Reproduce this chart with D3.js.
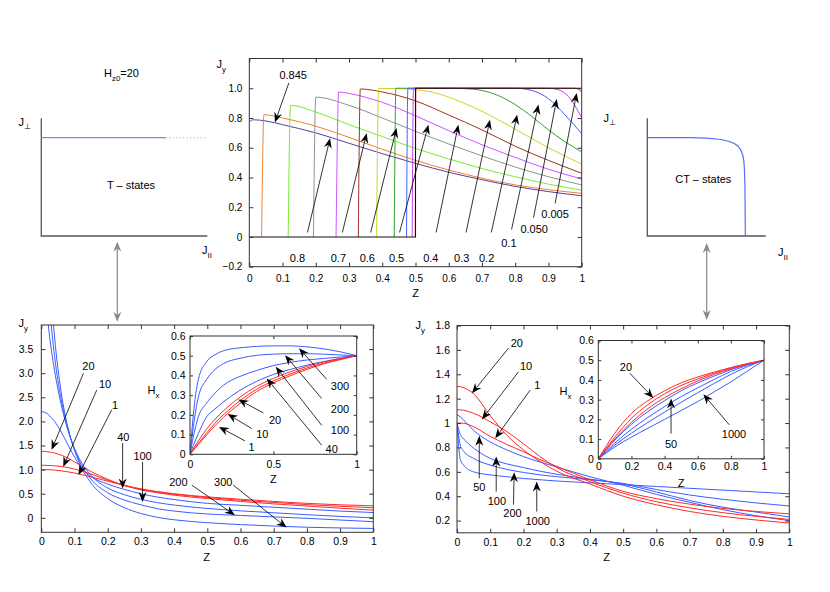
<!DOCTYPE html>
<html>
<head>
<meta charset="utf-8">
<script src="https://cdn.jsdelivr.net/npm/d3@7"></script>
<style>
  body { margin: 0; background: #fff; }
  text { font-family: "Liberation Sans", Arial, sans-serif; fill: #000; }
</style>
</head>
<body>
<svg id="fig" width="830" height="592"></svg>
<script>
// ---------- top centre: Jy(Z) for several values (pairs [Z, Jy]) ----------
const jy0845 = [[0,0.772],[0.012,0.788],[0.05,0.78],[0.1,0.755],[0.2,0.70],[0.3,0.63],[0.4,0.56],[0.5,0.495],[0.6,0.435],[0.7,0.385],[0.8,0.34],[0.9,0.305],[1,0.277]];
const jy080 = [[0.037,0],[0.044,0.822],[0.1,0.80],[0.2,0.745],[0.3,0.67],[0.4,0.59],[0.5,0.515],[0.6,0.45],[0.7,0.395],[0.8,0.35],[0.9,0.318],[1,0.293]];
const jy070 = [[0.117,0],[0.124,0.885],[0.2,0.84],[0.3,0.755],[0.4,0.675],[0.5,0.595],[0.6,0.525],[0.7,0.46],[0.8,0.405],[0.9,0.355],[1,0.315]];
const jy060 = [[0.193,0],[0.2,0.94],[0.3,0.885],[0.4,0.80],[0.5,0.71],[0.6,0.625],[0.7,0.545],[0.8,0.47],[0.9,0.405],[1,0.35]];
const jy050 = [[0.261,0],[0.269,0.975],[0.3,0.965],[0.4,0.905],[0.5,0.815],[0.6,0.715],[0.7,0.62],[0.8,0.535],[0.9,0.455],[1,0.39]];
const jy040 = [[0.328,0],[0.334,0.995],[0.4,0.975],[0.5,0.915],[0.6,0.82],[0.7,0.72],[0.8,0.61],[0.9,0.515],[1,0.428]];
const jy030 = [[0.383,0],[0.389,0.998],[0.45,0.998],[0.5,0.99],[0.55,0.975],[0.6,0.94],[0.7,0.845],[0.8,0.725],[0.9,0.60],[1,0.49]];
const jy020 = [[0.436,0],[0.441,1.0],[0.6,1.0],[0.65,0.997],[0.7,0.985],[0.75,0.95],[0.8,0.89],[0.85,0.81],[0.9,0.72],[0.95,0.64],[1,0.572]];
const jy010 = [[0.473,0],[0.477,1.0],[0.8,1.0],[0.85,0.985],[0.9,0.93],[0.95,0.82],[1,0.695]];
const jy0050 = [[0.490,0],[0.494,1.0],[0.9,1.0],[0.93,0.99],[0.96,0.945],[1,0.80]];
const jy0005 = [[0.4995,0],[0.501,1.0],[0.975,1.0],[0.99,0.995],[1,0.97]];
const jyStep = [[0,0],[0.5,0],[0.5,1],[1,1]];
const topCurves = [jy0845, jy080, jy070, jy060, jy050, jy040, jy030, jy020, jy010, jy0050, jy0005];
const topColors = ["#5b3f99","#f08030","#74ee2c","#909090","#cc55ff","#a03020","#c8d820","#30a030","#4060ff","#c040f0","#ff2020"];
// label, label Z, label Jy, tail Z, tail Jy, tip Z, tip Jy
const topNotes = [
  ["0.845",0.132,1.09,0.119,1.036,0.077,0.770],
  ["0.8",0.145,-0.14,0.175,0.03,0.243,0.664],
  ["0.7",0.268,-0.14,0.28,0.03,0.353,0.698],
  ["0.6",0.355,-0.14,0.365,0.03,0.443,0.732],
  ["0.5",0.443,-0.14,0.452,0.03,0.539,0.755],
  ["0.4",0.546,-0.14,0.562,0.03,0.629,0.755],
  ["0.3",0.639,-0.14,0.652,0.03,0.724,0.788],
  ["0.2",0.714,-0.14,0.728,0.03,0.806,0.822],
  ["0.1",0.781,-0.04,0.789,0.05,0.870,0.89],
  ["0.050",0.857,0.052,0.855,0.13,0.925,0.928],
  ["0.005",0.920,0.151,0.920,0.225,0.985,0.968]
];

// ---------- bottom left: T-states ----------
const zBL = [0,0.01,0.02,0.03,0.04,0.06,0.08,0.1,0.12,0.15,0.2,0.25,0.3,0.35,0.4,0.5,0.6,0.7,0.8,0.9,1.0];
const blRed20 = [1.38,1.378,1.37,1.36,1.345,1.30,1.24,1.16,1.08,0.96,0.80,0.67,0.58,0.52,0.47,0.40,0.34,0.29,0.245,0.20,0.16];
const blRed10 = [1.09,1.09,1.088,1.085,1.08,1.065,1.045,1.01,0.975,0.91,0.78,0.675,0.595,0.535,0.49,0.42,0.365,0.32,0.275,0.24,0.21];
const blRed1  = [1.0,1.0,0.998,0.995,0.99,0.975,0.955,0.93,0.90,0.85,0.76,0.675,0.60,0.545,0.50,0.435,0.385,0.34,0.30,0.27,0.25];
const blBlue40  = [2.2,2.19,2.15,2.08,2.0,1.78,1.52,1.26,1.05,0.86,0.70,0.59,0.50,0.43,0.38,0.30,0.26,0.22,0.18,0.14,0.11];
const blBlue100 = [7,5.2,4.1,3.5,3.05,2.35,1.82,1.44,1.16,0.88,0.62,0.48,0.385,0.315,0.265,0.195,0.145,0.105,0.065,0.03,0.0];
const blBlue200 = [9,6.5,4.9,4.0,3.35,2.45,1.85,1.42,1.11,0.80,0.52,0.37,0.27,0.19,0.14,0.08,0.05,0.02,-0.01,-0.045,-0.08];
const blBlue300 = [11,8,5.8,4.6,3.75,2.6,1.88,1.40,1.06,0.72,0.40,0.21,0.09,0.01,-0.04,-0.10,-0.14,-0.17,-0.195,-0.21,-0.22];
const blNotes = [
  ["20",0.142,3.15,0.127,3.0,0.031,1.41],
  ["10",0.192,2.78,0.167,2.65,0.066,1.06],
  ["1",0.222,2.34,0.212,2.24,0.112,0.89],
  ["40",0.247,1.68,0.245,1.55,0.245,0.61],
  ["100",0.305,1.29,0.305,1.16,0.305,0.33],
  ["200",0.413,0.75,0.453,0.68,0.583,0.056],
  ["300",0.548,0.75,0.578,0.68,0.739,-0.2]
];
// inset Hx(Z)
const zBLi = [0,0.02,0.05,0.1,0.15,0.2,0.3,0.4,0.5,0.6,0.7,0.8,0.9,1.0];
const hxRed20 = [0,0.028,0.068,0.128,0.178,0.22,0.29,0.345,0.385,0.418,0.445,0.468,0.485,0.5];
const hxRed10 = [0,0.022,0.055,0.108,0.158,0.2,0.272,0.33,0.372,0.407,0.437,0.462,0.482,0.5];
const hxRed1  = [0,0.02,0.05,0.098,0.145,0.187,0.258,0.318,0.362,0.398,0.43,0.458,0.48,0.5];
const hxBlue40  = [0,0.045,0.105,0.19,0.23,0.265,0.325,0.37,0.405,0.43,0.452,0.47,0.486,0.5];
const hxBlue100 = [0,0.09,0.19,0.26,0.31,0.35,0.395,0.425,0.45,0.466,0.478,0.486,0.493,0.5];
const hxBlue200 = [0,0.14,0.29,0.38,0.43,0.46,0.487,0.502,0.508,0.51,0.51,0.508,0.504,0.5];
const hxBlue300 = [0,0.2,0.38,0.47,0.505,0.525,0.54,0.547,0.55,0.55,0.545,0.535,0.52,0.5];
const bliNotes = [
  ["300",0.90,0.346,0.82,0.38,0.654,0.538],
  ["200",0.90,0.232,0.79,0.283,0.57,0.503],
  ["100",0.90,0.122,0.79,0.147,0.514,0.444],
  ["40",0.85,0.025,0.79,0.046,0.46,0.385],
  ["20",0.51,0.176,0.44,0.21,0.29,0.278],
  ["10",0.434,0.102,0.37,0.131,0.226,0.204],
  ["1",0.37,0.037,0.33,0.068,0.174,0.139]
];

// ---------- bottom right: CT-states ----------
const zBR = [0,0.01,0.02,0.05,0.1,0.15,0.2,0.25,0.3,0.4,0.5,0.6,0.7,0.8,0.9,1.0];
const brRed20 = [1.30,1.298,1.29,1.24,1.06,0.90,0.78,0.685,0.605,0.50,0.40,0.33,0.275,0.235,0.205,0.18];
const brRed10 = [1.11,1.108,1.105,1.08,1.01,0.93,0.83,0.725,0.635,0.52,0.425,0.355,0.305,0.265,0.235,0.21];
const brRed1  = [1.0,1.0,0.998,0.97,0.89,0.825,0.765,0.70,0.645,0.535,0.44,0.38,0.335,0.30,0.275,0.255];
const brBlue50   = [1.07,1.05,1.025,0.94,0.845,0.78,0.725,0.68,0.64,0.56,0.49,0.415,0.35,0.29,0.24,0.20];
const brBlue100  = [1.0,0.905,0.87,0.795,0.71,0.665,0.635,0.605,0.58,0.54,0.50,0.435,0.365,0.31,0.27,0.23];
const brBlue200  = [1.0,0.82,0.77,0.71,0.655,0.62,0.595,0.575,0.56,0.535,0.505,0.455,0.41,0.375,0.345,0.32];
const brBlue1000 = [1.0,0.70,0.655,0.60,0.575,0.56,0.545,0.535,0.525,0.51,0.495,0.48,0.465,0.45,0.435,0.42];
const brNotes = [
  ["20",0.18,1.655,0.155,1.614,0.045,1.245],
  ["10",0.208,1.464,0.185,1.42,0.075,1.03],
  ["1",0.242,1.313,0.22,1.27,0.115,0.875],
  ["50",0.067,0.473,0.067,0.547,0.067,0.895],
  ["100",0.12,0.364,0.118,0.438,0.118,0.725],
  ["200",0.167,0.26,0.17,0.33,0.172,0.597],
  ["1000",0.243,0.197,0.24,0.274,0.24,0.52]
];
const zBRi = [0,0.1,0.2,0.3,0.4,0.5,0.6,0.7,0.8,0.9,1.0];
const hrRed20 = [0,0.13,0.23,0.295,0.345,0.385,0.415,0.44,0.463,0.483,0.5];
const hrRed10 = [0,0.11,0.205,0.275,0.33,0.372,0.405,0.435,0.46,0.482,0.5];
const hrRed1  = [0,0.10,0.185,0.255,0.31,0.355,0.395,0.428,0.457,0.48,0.5];
const hrBlue50   = [0,0.095,0.175,0.24,0.295,0.345,0.385,0.42,0.452,0.478,0.5];
const hrBlue100  = [0,0.08,0.15,0.21,0.265,0.315,0.36,0.403,0.443,0.474,0.5];
const hrBlue200  = [0,0.07,0.13,0.185,0.237,0.287,0.335,0.383,0.428,0.467,0.5];
const hrBlue1000 = [0,0.06,0.11,0.155,0.2,0.245,0.29,0.34,0.39,0.445,0.5];
const briNotes = [
  ["20",0.167,0.467,0.19,0.434,0.332,0.309],
  ["50",0.439,0.073,0.439,0.128,0.439,0.306],
  ["1000",0.819,0.128,0.79,0.173,0.634,0.327]
];

// ---------- sketches: J_perp vs J_par ----------
const tJpar = [0, 0.749];
const tJperp = [0.835, 0.835];
const tDotted = [[0.749,0.835],[1.0,0.835]];
const ctJpar  = [0, 0.36, 0.586, 0.698, 0.769, 0.806, 0.819, 0.825, 0.828];
const ctJperp = [0.835, 0.835, 0.824, 0.801, 0.759, 0.688, 0.589, 0.391, 0];

const RED = "#ff2a2a", BLUE = "#3a5cff";
const FONT = "'Liberation Sans', Arial, sans-serif";

const svg = d3.select("#fig");
let clipN = 0;

function makeAxes(box, xd, yd) {
  const x = d3.scaleLinear().domain(xd).range([box.x0, box.x1]);
  const y = d3.scaleLinear().domain(yd).range([box.y1, box.y0]);
  const id = "clip" + (clipN++);
  svg.append("clipPath").attr("id", id).append("rect")
    .attr("x", box.x0).attr("y", box.y0)
    .attr("width", box.x1 - box.x0).attr("height", box.y1 - box.y0);
  const plot = svg.append("g").attr("clip-path", `url(#${id})`);
  return {x, y, box, plot};
}

function drawFrame(ax, xt, yt, fx, fy, opt) {
  const b = ax.box, g = svg.append("g");
  g.append("rect").attr("x", b.x0).attr("y", b.y0)
    .attr("width", b.x1 - b.x0).attr("height", b.y1 - b.y0)
    .attr("fill", "none").attr("stroke", "#333").attr("stroke-width", 1);
  const ts = opt.tick || 4;
  const style = sel => {
    sel.select(".domain").remove();
    sel.selectAll("line").attr("stroke", "#333");
    sel.selectAll("text").attr("font-family", FONT).attr("font-size", opt.fs || 10.5).attr("fill", "#000");
  };
  g.append("g").attr("transform", `translate(0,${b.y1})`)
    .call(d3.axisBottom(ax.x).tickValues(xt).tickSize(-ts).tickPadding(opt.xpad).tickFormat(fx)).call(style);
  g.append("g").attr("transform", `translate(0,${b.y0})`)
    .call(d3.axisTop(ax.x).tickValues(xt).tickSize(-ts).tickFormat("")).call(style);
  g.append("g").attr("transform", `translate(${b.x0},0)`)
    .call(d3.axisLeft(ax.y).tickValues(yt).tickSize(-ts).tickPadding(opt.ypad).tickFormat(fy)).call(style);
  g.append("g").attr("transform", `translate(${b.x1},0)`)
    .call(d3.axisRight(ax.y).tickValues(yt).tickSize(-ts).tickFormat("")).call(style);
}

function lineXY(ax, xs, ys, color, curve) {
  const pts = xs.map((v, i) => [v, ys[i]]);
  ax.plot.append("path").datum(pts)
    .attr("d", d3.line().x(d => ax.x(d[0])).y(d => ax.y(d[1])).curve(curve || d3.curveMonotoneX))
    .attr("fill", "none").attr("stroke", color).attr("stroke-width", 1);
}
function linePts(ax, pts, color, curve, w) {
  ax.plot.append("path").datum(pts)
    .attr("d", d3.line().x(d => ax.x(d[0])).y(d => ax.y(d[1])).curve(curve || d3.curveMonotoneX))
    .attr("fill", "none").attr("stroke", color).attr("stroke-width", w || 1);
}

function arrowHead(g, x1, y1, x2, y2, color, L, W) {
  const dx = x2 - x1, dy = y2 - y1, len = Math.hypot(dx, dy);
  const ux = dx / len, uy = dy / len, nx = -uy, ny = ux;
  const bx = x2 - L * ux, by = y2 - L * uy;
  const mx = x2 - 0.68 * L * ux, my = y2 - 0.68 * L * uy;
  g.append("path")
    .attr("d", `M${x2},${y2}L${bx + W * nx},${by + W * ny}L${mx},${my}L${bx - W * nx},${by - W * ny}Z`)
    .attr("fill", color);
  return [mx, my];
}
function arrow(g, x1, y1, x2, y2, color, w) {
  const m = arrowHead(g, x1, y1, x2, y2, color, 10, 4);
  g.append("line").attr("x1", x1).attr("y1", y1).attr("x2", m[0]).attr("y2", m[1])
    .attr("stroke", color).attr("stroke-width", w || 0.8);
}
function notes(ax, list, fs) {
  const g = svg.append("g");
  list.forEach(n => {
    g.append("text").attr("x", ax.x(n[1])).attr("y", ax.y(n[2])).attr("dy", "0.36em")
      .attr("text-anchor", "middle").attr("font-size", fs || 11).text(n[0]);
    arrow(g, ax.x(n[3]), ax.y(n[4]), ax.x(n[5]), ax.y(n[6]), "#000");
  });
}
function subLabel(x, y, main, sub, fs, sdy) {
  const t = svg.append("text").attr("x", x).attr("y", y).attr("font-size", fs || 11);
  t.append("tspan").text(main);
  t.append("tspan").attr("font-size", (fs || 11) * 0.72).attr("dy", sdy || 4).text(sub);
  return t;
}
const fmtTick = d => (d === 0 ? "0" : d === 1 ? "1" : d3.format(".1f")(d).replace("-", "\u2212"));
const fmt1 = d => (d === 0 ? "0" : d3.format(".1f")(d).replace("-", "\u2212"));
const fmtG = d => (d === 0 ? "0" : String(+d.toFixed(2)));

// ===== top centre =====
const axT = makeAxes({x0: 249.3, x1: 581.7, y0: 58.5, y1: 266.7}, [0, 1], [-0.2, 1.2]);
drawFrame(axT, d3.range(0, 1.01, 0.1), d3.range(-0.2, 1.01, 0.2).map(v => +v.toFixed(1)),
  fmtTick, fmt1, {xpad: 8.5, ypad: 7, fs: 10});
topCurves.forEach((c, i) => linePts(axT, c, topColors[i]));
linePts(axT, jyStep, "#111", d3.curveLinear, 1.1);
notes(axT, topNotes);
svg.append("text").attr("x", 415.7).attr("y", 297).attr("text-anchor", "middle").attr("font-size", 11).text("Z");
subLabel(216.5, 67.5, "J", "y");

// ===== bottom left =====
const axBL = makeAxes({x0: 41.3, x1: 373.3, y0: 325, y1: 532.3}, [0, 1], [-0.3, 4.0]);
drawFrame(axBL, d3.range(0, 1.01, 0.1), d3.range(0, 3.51, 0.5),
  fmtG, fmt1, {xpad: 5.5, ypad: 8});
[blBlue40, blBlue100, blBlue200, blBlue300].forEach(s => lineXY(axBL, zBL, s, BLUE));
[blRed20, blRed10, blRed1].forEach(s => lineXY(axBL, zBL, s, RED));
notes(axBL, blNotes);
svg.append("text").attr("x", 206.7).attr("y", 561).attr("text-anchor", "middle").attr("font-size", 11).text("Z");
subLabel(18.5, 326.5, "J", "y");

// inset
const axBLi = makeAxes({x0: 190, x1: 356.7, y0: 336, y1: 454.3}, [0, 1], [0, 0.6]);
svg.append("rect").attr("x", 190).attr("y", 336).attr("width", 166.7).attr("height", 118.3).attr("fill", "#fff");
axBLi.plot.raise();
drawFrame(axBLi, [0, 0.5, 1], d3.range(0, 0.61, 0.1).map(v => +v.toFixed(1)),
  fmtG, d => (d === 0 ? "0" : d3.format(".1f")(d)), {xpad: 6, ypad: 4.5, tick: 3});
[hxBlue300, hxBlue200, hxBlue100, hxBlue40].forEach(s => lineXY(axBLi, zBLi, s, BLUE));
[hxRed20, hxRed10, hxRed1].forEach(s => lineXY(axBLi, zBLi, s, RED));
notes(axBLi, bliNotes);
svg.append("text").attr("x", 273.3).attr("y", 482.5).attr("text-anchor", "middle").attr("font-size", 11).text("Z");
subLabel(147.5, 394, "H", "x");

// ===== bottom right =====
const axBR = makeAxes({x0: 457, x1: 789.3, y0: 325.5, y1: 532.8}, [0, 1], [0.1, 1.8]);
drawFrame(axBR, d3.range(0, 1.01, 0.1), d3.range(0.2, 1.81, 0.2).map(v => +v.toFixed(1)),
  fmtG, fmtG, {xpad: 5.5, ypad: 7});
[brBlue50, brBlue100, brBlue200, brBlue1000].forEach(s => lineXY(axBR, zBR, s, BLUE));
[brRed20, brRed10, brRed1].forEach(s => lineXY(axBR, zBR, s, RED));
notes(axBR, brNotes);
svg.append("text").attr("x", 606.7).attr("y", 561).attr("text-anchor", "middle").attr("font-size", 11).text("Z");
subLabel(415.5, 328.5, "J", "y");

// inset
const axBRi = makeAxes({x0: 598.3, x1: 764, y0: 340.5, y1: 458.8}, [0, 1], [0, 0.6]);
svg.append("rect").attr("x", 598.3).attr("y", 340.5).attr("width", 165.7).attr("height", 118.3).attr("fill", "#fff");
axBRi.plot.raise();
drawFrame(axBRi, d3.range(0, 1.01, 0.2).map(v => +v.toFixed(1)), d3.range(0, 0.61, 0.1).map(v => +v.toFixed(1)),
  fmtG, d => (d === 0 ? "0" : d3.format(".1f")(d)), {xpad: 4, ypad: 4.5, tick: 3});
[hrBlue50, hrBlue100, hrBlue200, hrBlue1000].forEach(s => lineXY(axBRi, zBRi, s, BLUE));
[hrRed20, hrRed10, hrRed1].forEach(s => lineXY(axBRi, zBRi, s, RED));
notes(axBRi, briNotes);
svg.append("text").attr("x", 681).attr("y", 487).attr("text-anchor", "middle").attr("font-size", 11).text("Z");
subLabel(559.5, 395, "H", "x");

// ===== sketch panels =====
function sketch(box) {
  const x = d3.scaleLinear().domain([0, 1]).range([box.x0, box.x1]);
  const y = d3.scaleLinear().domain([0, 1]).range([box.y1, box.y0]);
  const g = svg.append("g");
  g.append("path").attr("d", `M${box.x0},${box.y0}V${box.y1}H${box.x1}`)
    .attr("fill", "none").attr("stroke", "#555").attr("stroke-width", 1.3);
  return {x, y, g};
}
const skT = sketch({x0: 41.3, x1: 207.3, y0: 118.3, y1: 236});
skT.g.append("path").datum(tJpar.map((v, i) => [v, tJperp[i]]))
  .attr("d", d3.line().x(d => skT.x(d[0])).y(d => skT.y(d[1])))
  .attr("stroke", "#7b86ee").attr("stroke-width", 1.2).attr("fill", "none");
skT.g.append("path").datum(tDotted)
  .attr("d", d3.line().x(d => skT.x(d[0])).y(d => skT.y(d[1])))
  .attr("stroke", "#9aa2e0").attr("stroke-width", 1).attr("stroke-dasharray", "1,2.5").attr("fill", "none");
svg.append("text").attr("x", 131).attr("y", 189).attr("text-anchor", "middle").attr("font-size", 11).text("T \u2013 states");
subLabel(18.5, 126, "J", "\u22a5", 11, 3);
subLabel(202, 254, "J", "II", 11, 4);
const hz = subLabel(104, 77, "H", "z0", 11, 4);
hz.append("tspan").attr("dy", -4).text("=20");

const skC = sketch({x0: 647.3, x1: 765.7, y0: 118.3, y1: 236});
skC.g.append("path").datum(ctJpar.map((v, i) => [v, ctJperp[i]]))
  .attr("d", d3.line().x(d => skC.x(d[0])).y(d => skC.y(d[1])).curve(d3.curveMonotoneY))
  .attr("stroke", "#5a6cff").attr("stroke-width", 1.2).attr("fill", "none");
svg.append("text").attr("x", 703.3).attr("y", 182.5).attr("text-anchor", "middle").attr("font-size", 11).text("CT \u2013 states");
subLabel(603.5, 122, "J", "\u22a5", 11, 3);
subLabel(778, 256, "J", "II", 11, 4);

// grey double arrows linking sketches and plots
function dblArrow(x, y1, y2) {
  const g = svg.append("g");
  const a = arrowHead(g, x, y2, x, y1, "#888", 10, 4);
  const b = arrowHead(g, x, y1, x, y2, "#888", 10, 4);
  g.append("line").attr("x1", x).attr("y1", a[1]).attr("x2", x).attr("y2", b[1])
    .attr("stroke", "#888").attr("stroke-width", 1.2);
}
dblArrow(117.3, 241.7, 321.7);
dblArrow(706.7, 243, 320);
</script>
</body>
</html>
